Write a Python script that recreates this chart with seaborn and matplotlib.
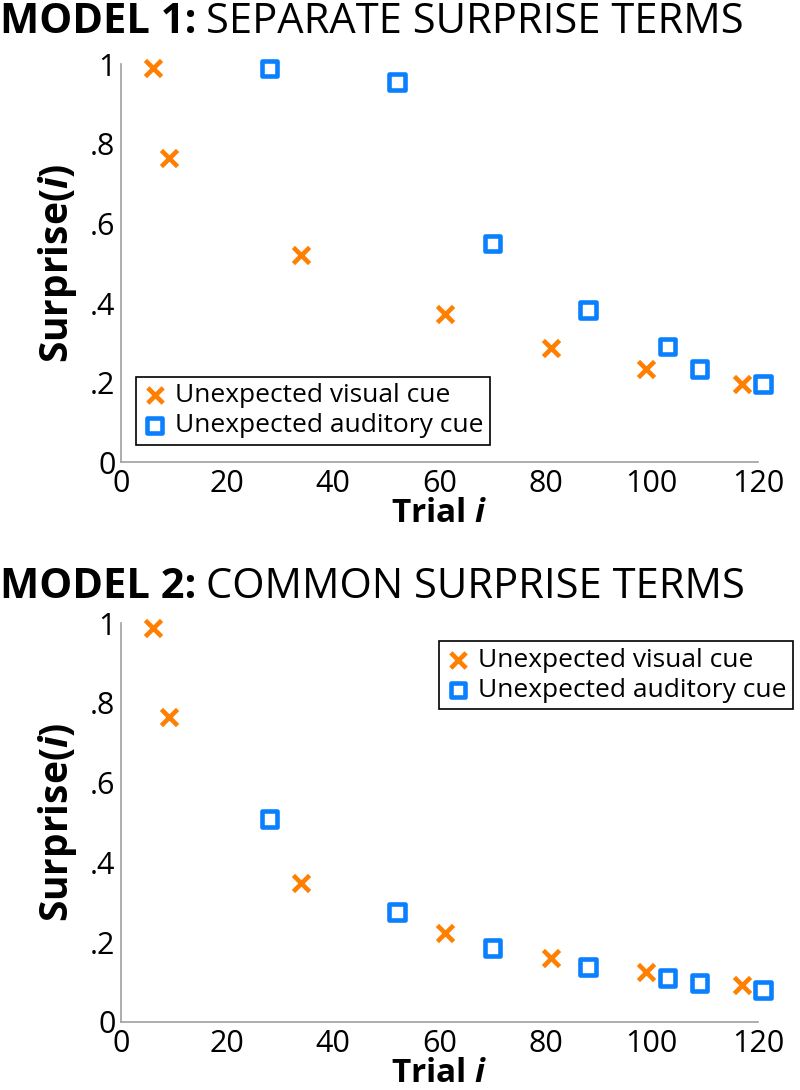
import matplotlib
matplotlib.use("Agg")
import matplotlib.pyplot as plt
import pandas as pd
import seaborn as sns
from matplotlib import font_manager

# --- data ---
visual_trials = [6, 9, 34, 61, 81, 99, 117]
auditory_trials = [28, 52, 70, 88, 103, 109, 121]
m1_visual = [0.99, 0.765, 0.52, 0.373, 0.286, 0.234, 0.196]
m1_auditory = [0.99, 0.955, 0.55, 0.382, 0.291, 0.234, 0.196]
m2_visual = [0.988, 0.765, 0.348, 0.223, 0.160, 0.125, 0.093]
m2_auditory = [0.509, 0.276, 0.185, 0.138, 0.110, 0.098, 0.080]

x_ticks = [0, 20, 40, 60, 80, 100, 120]
y_ticks = [0, 0.2, 0.4, 0.6, 0.8, 1]
y_tick_labels = ["0", ".2", ".4", ".6", ".8", "1"]
labels = ["Unexpected visual cue", "Unexpected auditory cue"]
titles = [("MODEL 1:", "SEPARATE SURPRISE TERMS"),
          ("MODEL 2:", "COMMON SURPRISE TERMS")]

ORANGE = "#ff7f00"
BLUE = "#0a80ff"
GREY = "#a0a0a0"

sns.set_style("white")
installed = {f.name for f in font_manager.fontManager.ttflist}
base_font = "Open Sans" if "Open Sans" in installed else "DejaVu Sans"
narrow_font = "Liberation Sans Narrow" if "Liberation Sans Narrow" in installed else base_font
plt.rcParams["font.family"] = [base_font, "DejaVu Sans"]
plt.rcParams["text.color"] = "black"
plt.rcParams["axes.labelcolor"] = "black"
plt.rcParams["mathtext.fontset"] = "custom"
plt.rcParams["mathtext.it"] = base_font + ":italic:bold"
plt.rcParams["mathtext.rm"] = base_font + ":bold"

fig = plt.figure(figsize=(8, 10.9), dpi=100)
ax1 = fig.add_axes([0.1513, 0.576, 0.796, 0.365])
ax2 = fig.add_axes([0.1513, 0.0624, 0.796, 0.366])


def draw_panel(ax, vis, aud, legend_loc, legend_anchor):
    df_v = pd.DataFrame({"trial": visual_trials, "surprise": vis})
    df_a = pd.DataFrame({"trial": auditory_trials, "surprise": aud})
    sns.scatterplot(data=df_v, x="trial", y="surprise", ax=ax, marker="x",
                    s=135, color=ORANGE, edgecolor=ORANGE, linewidth=3.3,
                    label=labels[0], clip_on=False, zorder=3)
    sns.scatterplot(data=df_a, x="trial", y="surprise", ax=ax, marker="s",
                    s=125, facecolor="none", edgecolor=BLUE, linewidth=3.3,
                    color=BLUE, label=labels[1], clip_on=False, zorder=3)
    ax.set_xlim(0, 120)
    ax.set_ylim(0, 1)
    ax.set_xticks(x_ticks)
    ax.set_xticklabels([str(t) for t in x_ticks])
    ax.set_yticks(y_ticks)
    ax.set_yticklabels(y_tick_labels)
    ax.tick_params(direction="in", length=5, width=1, color=GREY,
                   labelsize=22, labelcolor="black")
    ax.tick_params(axis="x", pad=5)
    ax.tick_params(axis="y", pad=4)
    sns.despine(ax=ax)
    for side in ["left", "bottom"]:
        ax.spines[side].set_color(GREY)
        ax.spines[side].set_linewidth(1.2)
    ax.set_xlabel("Trial $i$", fontsize=24, fontweight="bold", color="black")
    ax.set_ylabel("Surprise($i$)", fontsize=28, fontweight="bold", color="black")
    ax.xaxis.set_label_coords(0.5, -0.088)
    ax.yaxis.set_label_coords(-0.066, 0.5)
    leg = ax.legend(loc=legend_loc, bbox_to_anchor=legend_anchor,
                    fontsize=19, frameon=True, fancybox=False,
                    framealpha=1, edgecolor="black", handletextpad=0.3,
                    handlelength=0.9, borderpad=0.25, labelspacing=0.2,
                    borderaxespad=0, markerscale=0.95, labelcolor="black")
    leg.get_frame().set_linewidth(1.2)


draw_panel(ax1, m1_visual, m1_auditory, "lower left", (0.024, 0.043))
draw_panel(ax2, m2_visual, m2_auditory, "upper left", (0.50, 0.955))

# titles: bold prefix followed by regular text
renderer = fig.canvas.get_renderer()
for (bold, rest), base_px in zip(titles, [33, 598]):
    yb = 1 - base_px / 1090
    t = fig.text(0.0, yb, bold, fontsize=30, fontweight="bold",
                 family=narrow_font, va="baseline", ha="left", color="black")
    bb = t.get_window_extent(renderer)
    fig.text((bb.x1 + 10) / 800, yb, rest, fontsize=30,
             family=narrow_font, va="baseline", ha="left", color="black")

fig.savefig("out.png", dpi=100)
